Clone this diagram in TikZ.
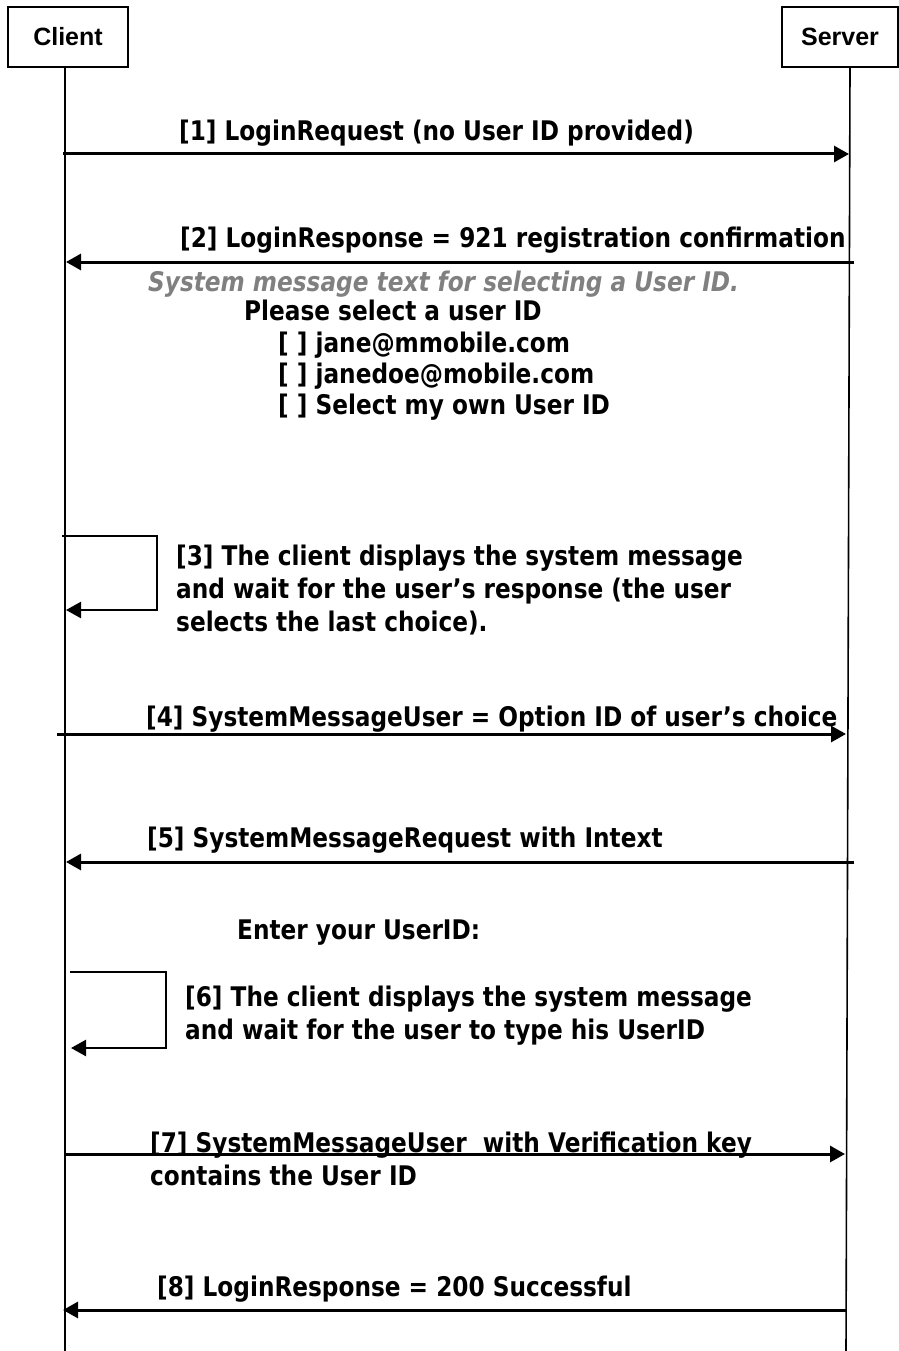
\documentclass[tikz,border=0pt]{standalone}
\usepackage{fontspec}
\usetikzlibrary{arrows.meta}
\newfontfamily\msgfont{DejaVu Sans}[FakeStretch=0.86]
\newfontfamily\hdrfont{Liberation Sans}
\definecolor{notegray}{RGB}{128,128,128}
\tikzset{
  actor/.style={draw, line width=1.6pt, minimum width=#1, minimum height=60pt, inner sep=0pt, font=\hdrfont\bfseries\fontsize{25}{30}\selectfont},
  life/.style={line width=1.6pt},
  msg/.style={line width=3pt, -{Triangle[length=15pt,width=16pt]}},
  loopline/.style={line width=2.4pt, -{Triangle[length=15pt,width=16pt]}},
  lbl/.style={anchor=base west, inner sep=0pt, font=\msgfont\bfseries\fontsize{27}{33}\selectfont},
  grey/.style={lbl, text=notegray, font=\msgfont\bfseries\itshape\fontsize{27}{33}\selectfont},
}
\begin{document}
\begin{tikzpicture}[x=1pt, y=-1pt]
\useasboundingbox (0,0) rectangle (898,1351);

% participants
\node[actor=120pt] (client) at (68,37) {Client};
\node[actor=116pt] (server) at (840,37) {Server};

% lifelines
\coordinate (cTop) at (65,67);
\coordinate (cBot) at (65,1351);
\coordinate (sTop) at (850,67);
\coordinate (sBot) at (846,1351);
\draw[life] (cTop) -- (cBot);
\draw[life] (sTop) -- (sBot);

% message end points
\coordinate (m1a) at (63,154);   \coordinate (m1b) at (849,154);
\coordinate (m2a) at (854,262);  \coordinate (m2b) at (66,262);
\coordinate (m4a) at (57,734);   \coordinate (m4b) at (846,734);
\coordinate (m5a) at (854,862);  \coordinate (m5b) at (66,862);
\coordinate (m7a) at (66,1154);  \coordinate (m7b) at (845,1154);
\coordinate (m8a) at (846,1310); \coordinate (m8b) at (63,1310);

% self messages
\coordinate (l3a) at (62,536);  \coordinate (l3b) at (157,536);
\coordinate (l3c) at (157,610); \coordinate (l3d) at (66,610);
\coordinate (l6a) at (70,972);  \coordinate (l6b) at (166,972);
\coordinate (l6c) at (166,1048);\coordinate (l6d) at (71,1048);

\draw[msg] (m1a) -- (m1b);
\draw[msg] (m2a) -- (m2b);
\draw[loopline] (l3a) -- (l3b) -- (l3c) -- (l3d);
\draw[msg] (m4a) -- (m4b);
\draw[msg] (m5a) -- (m5b);
\draw[loopline] (l6a) -- (l6b) -- (l6c) -- (l6d);
\draw[msg] (m7a) -- (m7b);
\draw[msg] (m8a) -- (m8b);

% labels (multi-line labels are placed by their last baseline)
\node[lbl] (t1) at (179,141) {[1] LoginRequest (no User ID provided)};
\node[lbl] (t2) at (180,247) {[2] LoginResponse = 921 registration confirmation};
\node[grey] (tg) at (148,291) {System message text for selecting a User ID.};
\node[lbl] (tp) at (244,320) {Please select a user ID};
\node[lbl] (o1) at (278,352) {[ ] jane@mmobile.com};
\node[lbl] (o2) at (278,383) {[ ] janedoe@mobile.com};
\node[lbl] (o3) at (278,414) {[ ] Select my own User ID};
\node[lbl, align=left] (t3) at (176,631) {[3] The client displays the system message\\and wait for the user’s response (the user\\selects the last choice).};
\node[lbl] (t4) at (146,726) {[4] SystemMessageUser = Option ID of user’s choice};
\node[lbl] (t5) at (147,847) {[5] SystemMessageRequest with Intext};
\node[lbl] (te) at (237,939) {Enter your UserID:};
\node[lbl, align=left] (t6) at (185,1039) {[6] The client displays the system message\\and wait for the user to type his UserID};
\node[lbl, align=left] (t7) at (150,1185) {[7] SystemMessageUser\ \ with Verification key\\contains the User ID};
\node[lbl] (t8) at (157,1296) {[8] LoginResponse = 200 Successful};
\end{tikzpicture}
\end{document}
